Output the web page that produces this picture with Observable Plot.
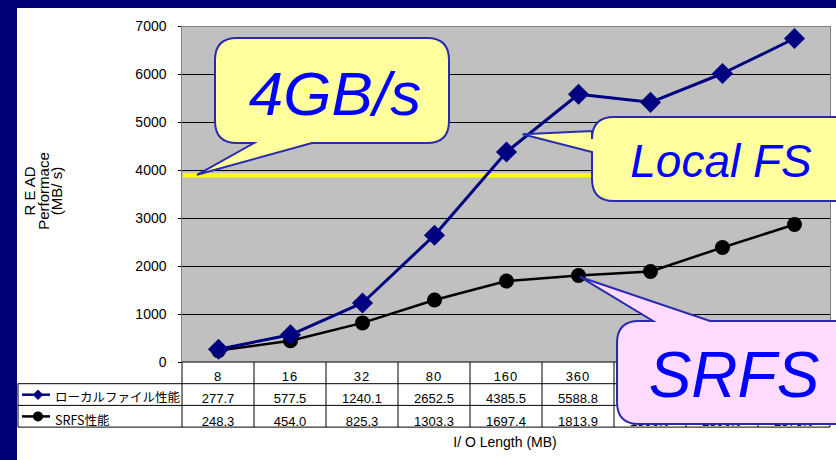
<!DOCTYPE html>
<html><head><meta charset="utf-8">
<script src="https://cdn.jsdelivr.net/npm/d3@7"></script>
<script src="https://cdn.jsdelivr.net/npm/@observablehq/plot@0.6"></script>
<style>
body{margin:0;background:#000074;width:836px;height:460px;overflow:hidden;position:relative;font-family:"Liberation Sans",Arial,sans-serif}
#panel{position:absolute;left:17px;top:8px;width:819px;height:452px;background:#fff}
#chart{position:absolute;left:0;top:0}
</style></head><body>
<div id="panel"></div><div id="chart"></div>
<script>
// ---- data ----
const categories = ["8","16","32","80","160","360","720","1440","2880"];
const localFS = [277.7,577.5,1240.1,2652.5,4385.5,5588.8,5420.0,6021.0,6750.0];
const srfs    = [248.3,454.0,825.3,1303.3,1697.4,1813.9,1896.0,2396.0,2875.0];
const seriesNames = ["ローカルファイル性能","SRFS性能"];
const yTicks = [0,1000,2000,3000,4000,5000,6000,7000];
const targetLine = 3900;
const calloutTexts = ["4GB/s","Local FS","SRFS"];
const yTitle = ["R E AD","Performace","(MB/ s)"];
const xTitle = "I/ O Length (MB)";

const rows = categories.map((c,i)=>({c, local: localFS[i], srfs: srfs[i]}));
const FONT = "Liberation Sans, Arial, 'Noto Sans CJK JP', sans-serif";

const chart = Plot.plot({
  width:836, height:460, marginLeft:181, marginRight:6, marginTop:26, marginBottom:98,
  style:{background:"transparent", fontFamily:FONT, color:"#000"},
  x:{type:"point", domain:categories, padding:0.5, axis:null},
  y:{domain:[0,7000], axis:null},
  marks:[
    Plot.frame({fill:"#c0c0c0"}),
    Plot.ruleY(yTicks.filter(d=>d>0 && d<7000), {stroke:"#000", strokeWidth:1}),
    Plot.axisY({ticks:yTicks, tickSize:3, tickPadding:12, fontSize:14, label:null, stroke:"#000", tickFormat:d=>String(d)}),
    Plot.ruleY([targetLine], {stroke:"#ffff00", strokeWidth:4.5, dx:2}),
    Plot.line(rows, {x:"c", y:"srfs", stroke:"#000", strokeWidth:2.5}),
    Plot.dot(rows, {x:"c", y:"srfs", r:7.5, fill:"#000", stroke:null}),
    Plot.line(rows, {x:"c", y:"local", stroke:"#000080", strokeWidth:3}),
    Plot.dot(rows, {x:"c", y:"local", r:9.5, fill:"#000080", stroke:null, symbol:d3.symbolDiamond2}),
    Plot.frame({stroke:"#808080"})
  ]
});
document.getElementById("chart").appendChild(chart);

const xs = chart.scale("x"), ys = chart.scale("y");
const X = c => xs.apply(c), Y = v => ys.apply(v);
const step = X(categories[1]) - X(categories[0]);
const left = X(categories[0]) - step/2, right = X(categories[categories.length-1]) + step/2;
const svg = d3.select(chart);

// ---- data table ----
const y0 = Y(0), rH = 21.7;
const rowY = [y0, y0+rH, y0+2*rH, y0+3*rH];
const tableLeft = 18;
const tg = svg.append("g").attr("font-family", FONT).attr("fill","#000");
tg.append("rect").attr("x",left).attr("y",rowY[0]).attr("width",right-left).attr("height",rH).attr("fill","#fff");
tg.append("rect").attr("x",tableLeft).attr("y",rowY[1]).attr("width",right-tableLeft).attr("height",2*rH).attr("fill","#fff");
const lines = [];
lines.push([left,rowY[0],right,rowY[0]]);
lines.push([tableLeft,rowY[1],right,rowY[1]]);
lines.push([tableLeft,rowY[2],right,rowY[2]]);
lines.push([tableLeft,rowY[3],right,rowY[3]]);
lines.push([tableLeft,rowY[1],tableLeft,rowY[3]]);
for (let k=0;k<=categories.length;k++){ const xx = left + k*step; lines.push([xx,rowY[0],xx,rowY[3]]); }
tg.selectAll("line.t").data(lines).join("line").attr("x1",d=>d[0]).attr("y1",d=>d[1]).attr("x2",d=>d[2]).attr("y2",d=>d[3]).attr("stroke","#000").attr("stroke-width",1);
tg.selectAll("text.h").data(categories).join("text").attr("x",d=>X(d)).attr("y",rowY[0]+19).attr("text-anchor","middle").attr("font-size",13).attr("letter-spacing",1).text(d=>d);
tg.selectAll("text.a").data(localFS).join("text").attr("x",(d,i)=>X(categories[i])).attr("y",rowY[1]+19.5).attr("text-anchor","middle").attr("font-size",13).text(d=>d.toFixed(1));
tg.selectAll("text.b").data(srfs).join("text").attr("x",(d,i)=>X(categories[i])).attr("y",rowY[2]+20.5).attr("text-anchor","middle").attr("font-size",13).text(d=>d.toFixed(1));
// legend keys
const ly1 = rowY[1]+11, ly2 = rowY[2]+11;
tg.append("line").attr("x1",22).attr("x2",50).attr("y1",ly1).attr("y2",ly1).attr("stroke","#000080").attr("stroke-width",2.5);
tg.append("path").attr("d", d3.symbol(d3.symbolDiamond2, 70)()).attr("transform",`translate(38,${ly1})`).attr("fill","#000080");
tg.append("text").attr("x",55).attr("y",rowY[1]+18.5).attr("text-anchor","start").attr("font-size",12.5).attr("font-family","'Noto Sans CJK JP', sans-serif").text(seriesNames[0]);
tg.append("line").attr("x1",22).attr("x2",50).attr("y1",ly2).attr("y2",ly2).attr("stroke","#000").attr("stroke-width",2.5);
tg.append("circle").attr("cx",38).attr("cy",ly2).attr("r",5).attr("fill","#000");
tg.append("text").attr("x",55).attr("y",rowY[2]+20).attr("text-anchor","start").attr("font-size",12.5).attr("font-family","'Noto Sans CJK JP', sans-serif").text(seriesNames[1]);

// ---- titles ----
svg.append("text").attr("x",(left+right)/2 - 1).attr("y",447).attr("text-anchor","middle").attr("font-size",14).attr("font-family",FONT).text(xTitle);
const yt = svg.append("g").attr("font-family",FONT).attr("font-size",15).attr("text-anchor","middle");
[35,49,62].forEach((bx,i)=>{
  yt.append("text").attr("transform",`translate(${bx},191) rotate(-90)`).text(yTitle[i]);
});

// ---- callouts ----
function callout(x0,y0_,x1,y1,r,tail){
  let p = "";
  const T = tail;
  p += `M${x0+r},${y0_}`;
  if (T.side==="top") p += `L${T.a},${y0_}L${T.tip[0]},${T.tip[1]}L${T.b},${y0_}`;
  p += `L${x1-r},${y0_}Q${x1},${y0_} ${x1},${y0_+r}L${x1},${y1-r}Q${x1},${y1} ${x1-r},${y1}`;
  if (T.side==="bottom") p += `L${T.b},${y1}L${T.tip[0]},${T.tip[1]}L${T.a},${y1}`;
  p += `L${x0+r},${y1}Q${x0},${y1} ${x0},${y1-r}`;
  if (T.side==="left") p += `L${x0},${T.b}L${T.tip[0]},${T.tip[1]}L${x0},${T.a}`;
  p += `L${x0},${y0_+r}Q${x0},${y0_} ${x0+r},${y0_}Z`;
  return p;
}
const cg = svg.append("g");
const tip1 = [left+15, Y(targetLine)];
const f = 0.23;
const tip2 = [X("160") + f*(X("360")-X("160")), Y(localFS[4] + f*(localFS[5]-localFS[4])) - 4];
const tip3 = [X("360")+2, Y(srfs[5])+2];
cg.append("path").attr("d",callout(215,38,449,143,22,{side:"bottom",a:254,b:312,tip:tip1})).attr("fill","#ffff9e").attr("stroke","#2a2ab0").attr("stroke-width",2);
cg.append("path").attr("d",callout(592,117,880,201,22,{side:"left",a:131,b:152,tip:tip2})).attr("fill","#ffff9e").attr("stroke","#2a2ab0").attr("stroke-width",2);
cg.append("path").attr("d",callout(617,321,880,424,22,{side:"top",a:653,b:710,tip:tip3})).attr("fill","#ffdcff").attr("stroke","#2a2ab0").attr("stroke-width",2);
const ct = cg.append("g").attr("font-family","Liberation Sans, Arial, sans-serif").attr("font-style","italic").attr("fill","#0000ff").attr("text-anchor","middle");
ct.append("text").attr("x",335).attr("y",115).attr("font-size",62).text(calloutTexts[0]);
ct.append("text").attr("x",721).attr("y",177).attr("font-size",46).text(calloutTexts[1]);
ct.append("text").attr("x",734).attr("y",397).attr("font-size",64).text(calloutTexts[2]);
</script>
</body></html>
